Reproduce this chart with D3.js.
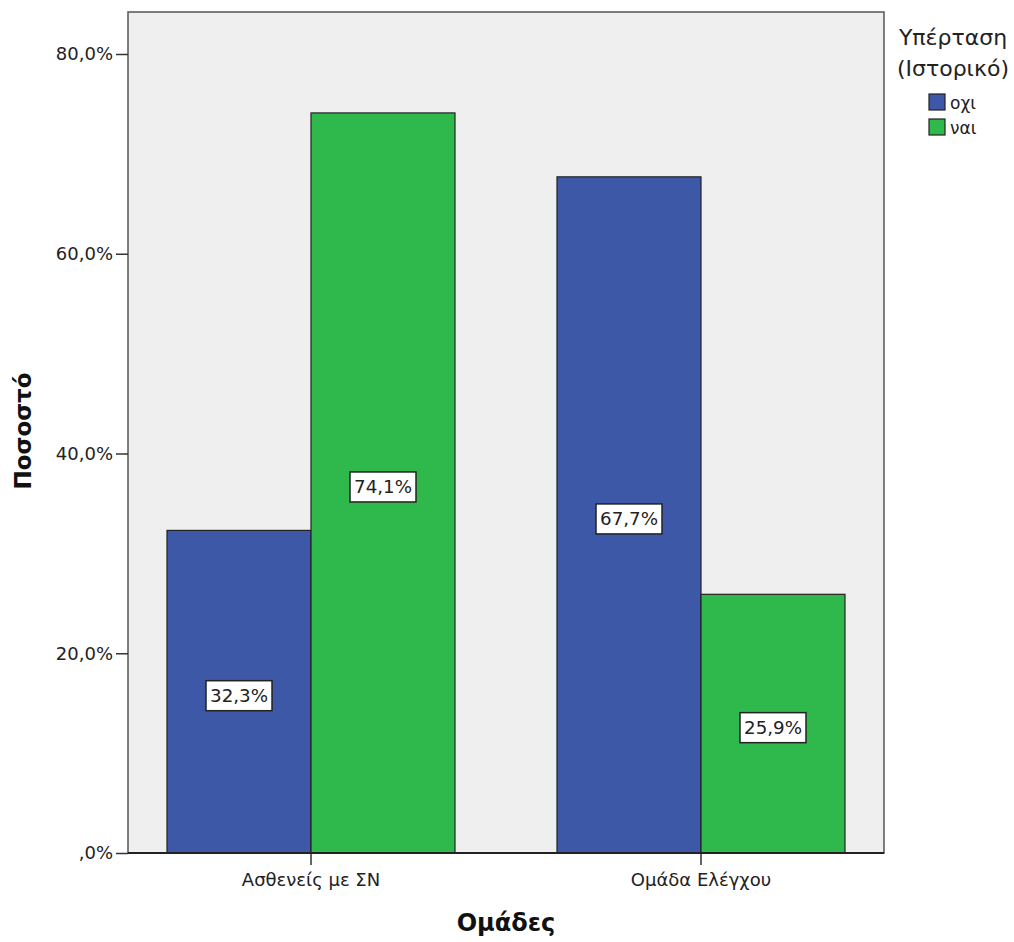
<!DOCTYPE html>
<html><head><meta charset="utf-8">
<script src="https://cdn.jsdelivr.net/npm/d3@7"></script>
<style>body{margin:0;background:#fff}svg{display:block}text{font-family:"DejaVu Sans",sans-serif}</style>
</head><body><svg id="c" width="1014" height="942"></svg>
<script>
const categories = ["Ασθενείς με ΣΝ", "Ομάδα Ελέγχου"];
const seriesNames = ["οχι", "ναι"];
const seriesColors = ["#3e58a8", "#2fb84b"];
const valuesOxi = [32.3, 67.7];
const valuesNai = [74.1, 25.9];
const yTicks = [0, 20, 40, 60, 80];

const svg = d3.select("#c");
const plot = {l:128, t:12, r:884, b:853};
const y = d3.scaleLinear().domain([0, 80]).range([853, 54]);
const x0 = d3.scaleBand().domain(categories).range([116, 896]).padding(0);
const x1 = d3.scaleBand().domain(seriesNames).range([0, 288]);

svg.append("rect").attr("x", plot.l).attr("y", plot.t).attr("width", plot.r-plot.l).attr("height", plot.b-plot.t)
  .attr("fill", "#efefef").attr("stroke", "#555").attr("stroke-width", 1.5);

const fmt = v => (v === 0 ? "," + d3.format(".1f")(v).split(".")[1] : d3.format(".1f")(v).replace(".", ",")) + "%";
const data = [];
categories.forEach((c, i) => {
  data.push({c, s: "οχι", v: valuesOxi[i], col: seriesColors[0]});
  data.push({c, s: "ναι", v: valuesNai[i], col: seriesColors[1]});
});
const bx = d => x0(d.c) + x0.bandwidth()/2 - 144 + x1(d.s);
svg.selectAll("rect.bar").data(data).join("rect").attr("class","bar")
  .attr("x", bx).attr("y", d => y(d.v)).attr("width", x1.bandwidth()).attr("height", d => y(0) - y(d.v))
  .attr("fill", d => d.col).attr("stroke", "#222").attr("stroke-width", 1.2);

const lab = svg.selectAll("g.lab").data(data).join("g").attr("class","lab")
  .attr("transform", d => `translate(${bx(d) + x1.bandwidth()/2},${y(d.v/2) + 4})`);
lab.append("rect").attr("x", -33).attr("y", -15).attr("width", 66).attr("height", 30)
  .attr("fill", "#fff").attr("stroke", "#222").attr("stroke-width", 1.5);
lab.append("text").attr("text-anchor", "middle").attr("dy", "0.36em").attr("font-size", 18).attr("fill", "#222")
  .attr("textLength", 58).attr("lengthAdjust", "spacingAndGlyphs")
  .text(d => fmt(d.v));

// axes
const yAxis = svg.append("g").attr("transform", `translate(${plot.l},0)`)
  .call(d3.axisLeft(y).tickValues(yTicks).tickSize(12).tickPadding(3).tickFormat(fmt));
yAxis.select(".domain").remove();
yAxis.selectAll("line").attr("stroke", "#333").attr("stroke-width", 1.5);
yAxis.selectAll("text").attr("font-size", 18).attr("fill", "#222").attr("font-family", "DejaVu Sans");

const xAxis = svg.append("g").attr("transform", `translate(0,${plot.b})`)
  .call(d3.axisBottom(x0).tickSize(12).tickPadding(8));
xAxis.select(".domain").remove();
xAxis.selectAll("line").attr("stroke", "#333").attr("stroke-width", 1.5);
xAxis.selectAll("text").attr("font-size", 18).attr("fill", "#222").attr("font-family", "DejaVu Sans");

svg.append("line").attr("x1", plot.l).attr("x2", plot.r).attr("y1", plot.b).attr("y2", plot.b).attr("stroke", "#222").attr("stroke-width", 2);

svg.append("text").attr("transform", "translate(31,431) rotate(-90)").attr("text-anchor", "middle")
  .attr("font-size", 23).attr("font-weight", "bold").attr("fill", "#111").text("Ποσοστό");
svg.append("text").attr("x", 506).attr("y", 931).attr("text-anchor", "middle")
  .attr("font-size", 24).attr("font-weight", "bold").attr("fill", "#111").text("Ομάδες");

// legend
const lg = svg.append("g");
lg.append("text").attr("x", 953).attr("y", 45).attr("text-anchor", "middle").attr("font-size", 22).attr("fill", "#222").text("Υπέρταση");
lg.append("text").attr("x", 953).attr("y", 76).attr("text-anchor", "middle").attr("font-size", 22).attr("fill", "#222").text("(Ιστορικό)");
seriesNames.forEach((s, i) => {
  lg.append("rect").attr("x", 929).attr("y", 94 + i*25).attr("width", 16).attr("height", 16)
    .attr("fill", seriesColors[i]).attr("stroke", "#222").attr("stroke-width", 1.2);
  lg.append("text").attr("x", 950).attr("y", 109 + i*25).attr("font-size", 17).attr("fill", "#222").text(s);
});
</script></body></html>
